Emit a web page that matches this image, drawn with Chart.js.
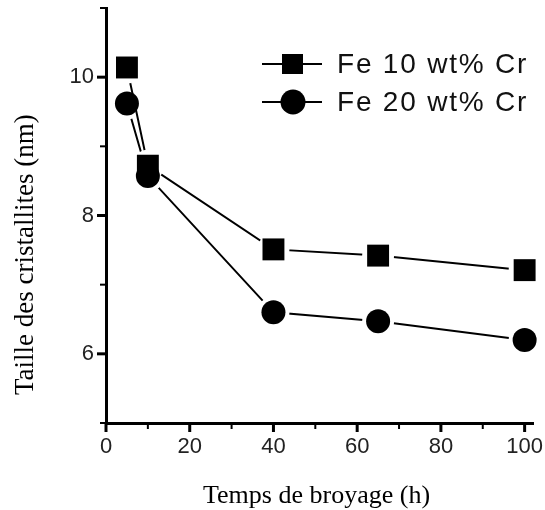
<!DOCTYPE html>
<html>
<head>
<meta charset="utf-8">
<script src="https://cdn.jsdelivr.net/npm/chart.js@4"></script>
<style>
  body { margin: 0; background: #fff; }
  #wrap { width: 545px; height: 510px; }
</style>
</head>
<body>
<div id="wrap"><canvas id="chart"></canvas></div>
<script>
const hours = [5, 10, 40, 65, 100];
const fe10 = [10.14, 8.72, 7.51, 7.42, 7.21];
const fe20 = [9.62, 8.57, 6.60, 6.47, 6.20];
const seriesNames = ["Fe 10 wt% Cr", "Fe 20 wt% Cr"];
const xTitle = "Temps de broyage (h)";
const yTitle = "Taille des cristallites (nm)";
const xMajor = [0, 20, 40, 60, 80, 100];
const xMinor = [10, 30, 50, 70, 90];
const yMajor = [6, 8, 10];
const yMinor = [5, 7, 9, 11];

function points(values) {
  return hours.map((h, i) => ({ x: h, y: values[i] }));
}

// line with a white halo round each point, so the line stops short of the marker
function lineSet(values) {
  return {
    data: points(values),
    borderColor: "#000",
    borderWidth: 2,
    pointStyle: "circle",
    pointRadius: 16,
    pointBackgroundColor: "#fff",
    pointBorderWidth: 0,
    order: 1,
    clip: false
  };
}

function markerSet(values, style, radius) {
  return {
    data: points(values),
    showLine: false,
    pointStyle: style,
    pointRadius: radius,
    pointBackgroundColor: "#000",
    pointBorderWidth: 0,
    order: 0,
    clip: false
  };
}

const tickMarks = {
  id: "tickMarks",
  afterDraw(chart) {
    const ctx = chart.ctx;
    const xs = chart.scales.x;
    const ys = chart.scales.y;
    const left = chart.chartArea.left;
    const bottom = chart.chartArea.bottom;

    function mark(x1, y1, x2, y2, w) {
      ctx.lineWidth = w;
      ctx.beginPath();
      ctx.moveTo(x1, y1);
      ctx.lineTo(x2, y2);
      ctx.stroke();
    }

    ctx.save();
    ctx.strokeStyle = "#000";
    xMajor.forEach(v => { const p = xs.getPixelForValue(v); mark(p, bottom, p, bottom + 9, 3); });
    xMinor.forEach(v => { const p = xs.getPixelForValue(v); mark(p, bottom, p, bottom + 6, 2); });
    yMajor.forEach(v => { const p = ys.getPixelForValue(v); mark(left, p, left - 9, p, 3); });
    yMinor.forEach(v => { const p = ys.getPixelForValue(v); mark(left, p, left - 6, p, 2); });
    ctx.restore();
  }
};

const legendAndTitles = {
  id: "legendAndTitles",
  afterDraw(chart) {
    const ctx = chart.ctx;
    ctx.save();

    // legend
    const rows = [64, 102];
    ctx.strokeStyle = "#000";
    ctx.lineWidth = 2;
    rows.forEach((y, i) => {
      ctx.fillStyle = "#000";
      ctx.beginPath();
      ctx.moveTo(262, y);
      ctx.lineTo(322, y);
      ctx.stroke();
      ctx.beginPath();
      if (i === 0) {
        ctx.rect(282, y - 10, 21, 20);
      } else {
        ctx.arc(293, y, 12.5, 0, Math.PI * 2);
      }
      ctx.fill();
      ctx.font = "28px 'Liberation Sans', Arial, sans-serif";
      ctx.letterSpacing = "1.8px";
      ctx.fillStyle = "#111";
      ctx.textAlign = "left";
      ctx.textBaseline = "middle";
      ctx.fillText(seriesNames[i], 337, y + 1);
    });
    ctx.letterSpacing = "0px";

    // axis titles
    ctx.fillStyle = "#000";
    ctx.textBaseline = "alphabetic";
    ctx.textAlign = "left";
    ctx.font = "26px 'Liberation Serif', 'Times New Roman', serif";
    ctx.fillText(xTitle, 203, 503);

    ctx.font = "27px 'Liberation Serif', 'Times New Roman', serif";
    ctx.translate(33, 395);
    ctx.rotate(-Math.PI / 2);
    ctx.fillText(yTitle, 0, 0);
    ctx.restore();
  }
};

new Chart(document.getElementById("chart"), {
  type: "line",
  data: {
    datasets: [
      lineSet(fe10),
      lineSet(fe20),
      markerSet(fe10, "rect", 15.5),
      markerSet(fe20, "circle", 12)
    ]
  },
  options: {
    responsive: true,
    maintainAspectRatio: false,
    animation: false,
    layout: { autoPadding: false, padding: { left: 0, top: 8, right: 12, bottom: 0 } },
    plugins: { legend: { display: false }, tooltip: { enabled: false } },
    scales: {
      x: {
        type: "linear",
        min: 0,
        max: 102,
        grid: { display: false, drawTicks: false },
        border: { display: true, color: "#000", width: 3 },
        ticks: {
          stepSize: 10,
          includeBounds: false,
          autoSkip: false,
          maxRotation: 0,
          padding: 11,
          color: "#222",
          font: { family: "'Liberation Sans', Arial, sans-serif", size: 22 },
          callback: v => (v % 20 === 0 ? v : "")
        },
        afterFit: s => { s.height = 87; s.paddingRight = 0; s.paddingLeft = 0; }
      },
      y: {
        min: 5,
        max: 11,
        grid: { display: false, drawTicks: false },
        border: { display: true, color: "#000", width: 3 },
        ticks: {
          stepSize: 1,
          autoSkip: false,
          padding: 12,
          color: "#222",
          font: { family: "'Liberation Sans', Arial, sans-serif", size: 22 },
          callback: v => (v % 2 === 0 ? v : "")
        },
        afterFit: s => { s.width = 106; s.paddingTop = 0; s.paddingBottom = 0; }
      }
    }
  },
  plugins: [tickMarks, legendAndTitles]
});
</script>
</body>
</html>
